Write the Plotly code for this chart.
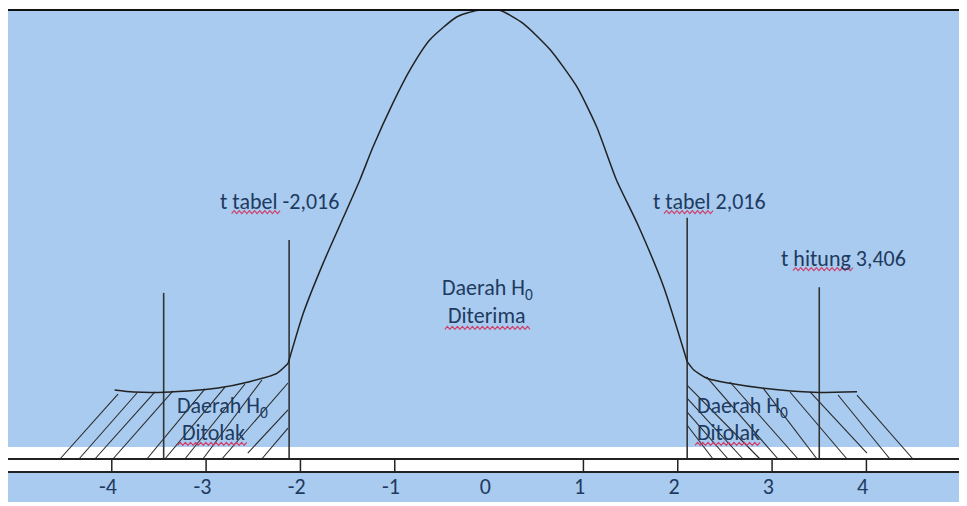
import numpy as np
import plotly.graph_objects as go

# page is 967x506, the plot div sits 8px in from the top-left corner
PAGE_W, PAGE_H, OFF = 967, 506, 8
W, H = PAGE_W - OFF, PAGE_H - OFF

# curve (t value, drawn height, peak = 0.4)
tail_left_t = [-3.97, -3.77, -3.45, -3.07, -2.89, -2.54, -2.25, -2.13]
tail_left_h = [0.0615, 0.0597, 0.0594, 0.0615, 0.0630, 0.0689, 0.0763, 0.0853]
bell_t = [-2.13, -1.97, -1.76, -1.51, -1.37, -1.23, -1.02, -0.84, -0.63, -0.34, -0.13, 0.0,
          0.12, 0.36, 0.65, 0.93, 1.14, 1.35, 1.57, 1.85, 2.10]
bell_h = [0.0853, 0.1298, 0.1743, 0.2218, 0.2486, 0.2782, 0.3171, 0.3465, 0.3733, 0.3940, 0.3996, 0.4000,
          0.3996, 0.3881, 0.3644, 0.3317, 0.2960, 0.2486, 0.2100, 0.1535, 0.0867]
tail_right_t = [2.10, 2.17, 2.31, 2.55, 2.91, 3.44, 3.90]
tail_right_h = [0.0867, 0.0793, 0.0719, 0.0674, 0.0630, 0.0594, 0.0600]

# vertical marker lines
marker_t = [-3.45, -2.12, 2.10, 3.50]
marker_top = [0.148, 0.195, 0.215, 0.153]

# hatch strokes: start point -> end point
hatch_x0 = [-4.549, -4.348, -4.179, -3.988, -3.628, -3.437, -3.225, -3.034, -2.833, -2.558, -2.410,
            2.098, 2.098, 2.098, 2.098, 2.305, 2.553, 2.903, 3.190, 3.402, 3.699, 3.900]
hatch_y0 = [0, 0, 0, 0, 0, 0, 0, 0, 0, 0.0053, 0,
            0.0659, 0.0543, 0.0419, 0.0303, 0.0731, 0.0686, 0.0633, 0.0597, 0.0597, 0.0570, 0.0570]
hatch_x1 = [-3.934, -3.733, -3.542, -3.351, -3.012, -2.800, -2.588, -2.408, -2.132, -2.132, -2.132,
            2.872, 2.692, 2.533, 2.374, 3.063, 3.275, 3.476, 3.794, 4.006, 4.249, 4.493]
hatch_y1 = [0.0579, 0.0588, 0.0597, 0.0606, 0.0624, 0.0641, 0.0668, 0.0704, 0.0677, 0.0437, 0.0276,
            0, 0, 0, 0, 0, 0, 0, 0, 0.0053, 0, 0]

tick_vals = [-4, -3, -2, -1, 0, 1, 2, 3, 4]
tick_text = ["-4", "-3", "-2", "-1", "0", "1", "2", "3", "4"]

labels = ["t tabel -2,016", "t tabel 2,016", "t hitung 3,406",
          "Daerah H<sub>0</sub>", "Diterima",
          "Daerah H<sub>0</sub>", "Ditolak", "Daerah H<sub>0</sub>", "Ditolak"]
label_x = [-2.874, 1.716, 3.073, -0.012, -0.022, -3.330, -3.277, 2.183, 2.183]
label_y = [0.2298, 0.2298, 0.1782, 0.1514, 0.1274, 0.0463, 0.0232, 0.0463, 0.0232]
label_anchor = ["left", "left", "left", "center", "center", "left", "left", "left", "left"]

# spell-check squiggles: x from, x to, height
squig_x0 = [-2.730, 1.854, 3.221, -0.469, -3.301, 2.183]
squig_x1 = [-2.216, 2.374, 3.857, 0.434, -2.569, 2.872]
squig_h = [0.2200, 0.2200, 0.1692, 0.1168, 0.0134, 0.0134]

# axis scale: t=0 at page x 489.1, 94.33 px per unit; height 0 at page y 459, 1122.5 px per unit
X0 = (OFF - 489.1) / 94.33
X1 = (PAGE_W - 489.1) / 94.33
Y0 = (459 - PAGE_H) / 1122.5
Y1 = (459 - OFF) / 1122.5
BLUE = "#a8cbef"
INK = "#1f3a5f"
FONT = "Calibri, Carlito, Lato, sans-serif"
FS = 22


def pxx(p):
    return (p - OFF) / W


def pxy(p):
    return 1 - (p - OFF) / H


fig = go.Figure()

# hatching
hx, hy = [], []
for a, b, c, d in zip(hatch_x0, hatch_y0, hatch_x1, hatch_y1):
    hx += [a, c, None]
    hy += [b, d, None]
fig.add_trace(go.Scatter(x=hx, y=hy, mode="lines", line=dict(color="#2a2a2a", width=1.1)))

# marker lines
mx, my = [], []
for t, top in zip(marker_t, marker_top):
    mx += [t, t, None]
    my += [0, top, None]
fig.add_trace(go.Scatter(x=mx, y=my, mode="lines", line=dict(color="#333333", width=1.6)))

# curve
for xs, ys in [(tail_left_t, tail_left_h), (bell_t, bell_h), (tail_right_t, tail_right_h)]:
    fig.add_trace(go.Scatter(x=xs, y=ys, mode="lines",
                             line=dict(color="#222222", width=1.5, shape="spline", smoothing=0.6)))

# ticks between the two axis rules
tx, ty = [], []
for v in tick_vals:
    if v == 0:
        continue
    tx += [v, v, None]
    ty += [0, -0.0116, None]
fig.add_trace(go.Scatter(x=tx, y=ty, mode="lines", line=dict(color="#222222", width=1.5)))
fig.add_trace(go.Scatter(x=[v - 0.04 for v in tick_vals], y=[-0.0267] * len(tick_vals), mode="text",
                         text=tick_text, textfont=dict(family=FONT, size=FS, color=INK)))

# squiggles
ux = 1 / 94.33
uy = 1 / 1122.5
for a, b, h in zip(squig_x0, squig_x1, squig_h):
    n = int((b - a) / ux / 2.5)
    xs = np.linspace(a, b, n + 1)
    ys = [h + (uy * 1.5 if i % 2 else -uy * 1.5) for i in range(n + 1)]
    fig.add_trace(go.Scatter(x=xs, y=ys, mode="lines", line=dict(color="#d23c68", width=1.1)))

for txt, x, y, anc in zip(labels, label_x, label_y, label_anchor):
    fig.add_annotation(x=x, y=y, text=txt, showarrow=False, xanchor=anc, yanchor="middle",
                       font=dict(family=FONT, size=FS, color=INK))

# background bands and rules
fig.add_shape(type="rect", xref="paper", yref="paper", x0=pxx(8), x1=1, y0=pxy(447), y1=pxy(10),
              fillcolor=BLUE, line_width=0, layer="below")
fig.add_shape(type="rect", xref="paper", yref="paper", x0=pxx(8), x1=1, y0=pxy(502), y1=pxy(473),
              fillcolor=BLUE, line_width=0, layer="below")
fig.add_shape(type="line", xref="paper", yref="paper", x0=pxx(8), x1=1, y0=pxy(10), y1=pxy(10),
              line=dict(color="#111111", width=2))
for yv in [0, -0.0116]:
    fig.add_shape(type="line", xref="paper", yref="y", x0=pxx(8), x1=1, y0=yv, y1=yv,
                  line=dict(color="#222222", width=1.8))

fig.update_layout(width=W, height=H, margin=dict(l=0, r=0, t=0, b=0), showlegend=False,
                  paper_bgcolor="white", plot_bgcolor="white")
fig.update_xaxes(range=[X0, X1], visible=False)
fig.update_yaxes(range=[Y0, Y1], visible=False)

fig.write_html("out.html")
